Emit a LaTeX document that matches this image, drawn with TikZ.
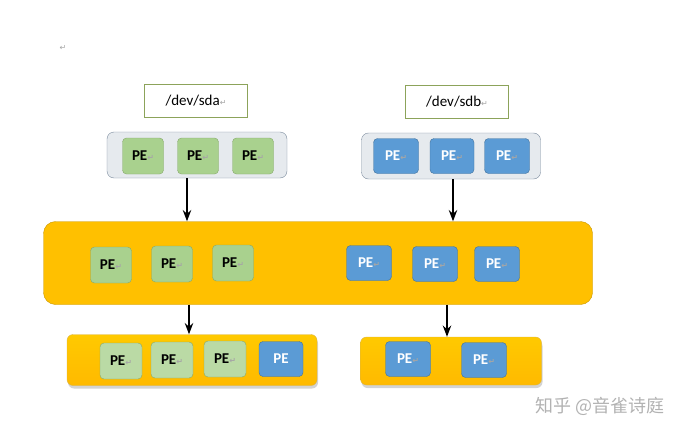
\documentclass[tikz,border=0pt]{standalone}
\usepackage{fontspec}
\setmainfont{Carlito}
\newfontfamily\markfont{DejaVu Sans}
\newfontfamily\cjkfont{Noto Sans CJK SC}
\usetikzlibrary{arrows.meta, shadows}

\definecolor{peGreen}{HTML}{A9D18E}
\definecolor{peGreenLine}{HTML}{86A96B}
\definecolor{peBlue}{HTML}{5B9BD5}
\definecolor{peBlueLine}{HTML}{41719C}
\definecolor{vgOrange}{HTML}{FFC000}
\definecolor{vgLine}{HTML}{C89600}
\definecolor{pvGray}{HTML}{E6EAEE}
\definecolor{pvLine}{HTML}{7A8A9C}
\definecolor{devLine}{HTML}{8CA35A}

\newcommand{\retmark}{{\markfont\fontsize{8}{9}\selectfont\color{black!35}↵}}

\begin{document}
\begin{tikzpicture}[
    x=1pt, y=-1pt,
    green pe/.style={draw=peGreenLine, fill=peGreen, rounded corners=4pt, minimum width=41pt, minimum height=36pt, font=\fontsize{15}{17}\selectfont\bfseries},
    blue pe/.style={draw=peBlueLine, fill=peBlue, text=white, rounded corners=4pt, minimum width=44pt, minimum height=35pt, font=\fontsize{15}{17}\selectfont\bfseries},
    devbox/.style={draw=devLine, fill=white, minimum width=103pt, minimum height=33pt, font=\fontsize{15}{17}\selectfont},
    pvbox/.style={draw=pvLine, fill=pvGray, rounded corners=7pt},
    lvbox/.style={draw=vgLine!70, top color=vgOrange!85!yellow, bottom color=vgOrange!90!orange, rounded corners=6pt, drop shadow={opacity=0.35, shadow xshift=1pt, shadow yshift=-3pt}},
    arrow/.style={-{Stealth[scale=1.1]}, line width=1.6pt}
]
\useasboundingbox (0,0) rectangle (685,436);

\node[font=\markfont\fontsize{8}{9}\selectfont, text=black!35] (mark) at (63,48) {↵};

% /dev/sda
\node[devbox] (sda) at (196,101) {/dev/sda\retmark};
\node[pvbox, minimum width=180pt, minimum height=46pt] (pva) at (197,155) {};
\node[green pe] (pa1) at (143,156) {PE\retmark};
\node[green pe] (pa2) at (198,156) {PE\retmark};
\node[green pe] (pa3) at (253,156) {PE\retmark};

% /dev/sdb
\node[devbox] (sdb) at (457,102) {/dev/sdb\retmark};
\node[pvbox, minimum width=179pt, minimum height=46pt] (pvb) at (451,156) {};
\node[blue pe, minimum width=45pt] (pb1) at (396,156) {PE\retmark};
\node[blue pe] (pb2) at (452,156) {PE\retmark};
\node[blue pe, minimum width=45pt] (pb3) at (507,156) {PE\retmark};

% volume group
\node[draw=vgLine, fill=vgOrange, rounded corners=12pt, minimum width=549pt, minimum height=83pt] (vg) at (318,263) {};
\node[green pe] (vg1) at (111,265) {PE\retmark};
\node[green pe] (vg2) at (172,264) {PE\retmark};
\node[green pe] (vg3) at (233,263) {PE\retmark};
\node[blue pe, minimum width=45pt] (vg4) at (369,263) {PE\retmark};
\node[blue pe, minimum width=45pt] (vg5) at (435,264) {PE\retmark};
\node[blue pe, minimum width=45pt] (vg6) at (497,264) {PE\retmark};

% logical volumes
\node[lvbox, minimum width=250pt, minimum height=51pt] (lva) at (192,360) {};
\node[green pe, fill=peGreen!80!white, minimum width=42pt] (la1) at (121,361) {PE\retmark};
\node[green pe, fill=peGreen!80!white, minimum width=42pt] (la2) at (172,360) {PE\retmark};
\node[green pe, fill=peGreen!80!white, minimum width=42pt] (la3) at (225,359) {PE\retmark};
\node[blue pe] (la4) at (281,359) {PE};

\node[lvbox, minimum width=181pt, minimum height=48pt] (lvb) at (451,361) {};
\node[blue pe, minimum width=45pt] (lb1) at (408,359) {PE\retmark};
\node[blue pe, minimum width=45pt] (lb2) at (484,360) {PE\retmark};

% arrows
\draw[arrow] ([xshift=-10pt]pva.south) -- ([xshift=-10pt]pva.south |- vg.north);
\draw[arrow] ([xshift=2pt]pvb.south) -- ([xshift=2pt]pvb.south |- vg.north);
\draw[arrow] ([xshift=-3pt]lva.north |- vg.south) -- ([xshift=-3pt]lva.north);
\draw[arrow] ([xshift=-4pt]lvb.north |- vg.south) -- ([xshift=-4pt]lvb.north);

\node[font=\cjkfont\fontsize{18}{20}\selectfont, text=black!30] (mark2) at (600,406) {知乎 @音雀诗庭};

\end{tikzpicture}
\end{document}
